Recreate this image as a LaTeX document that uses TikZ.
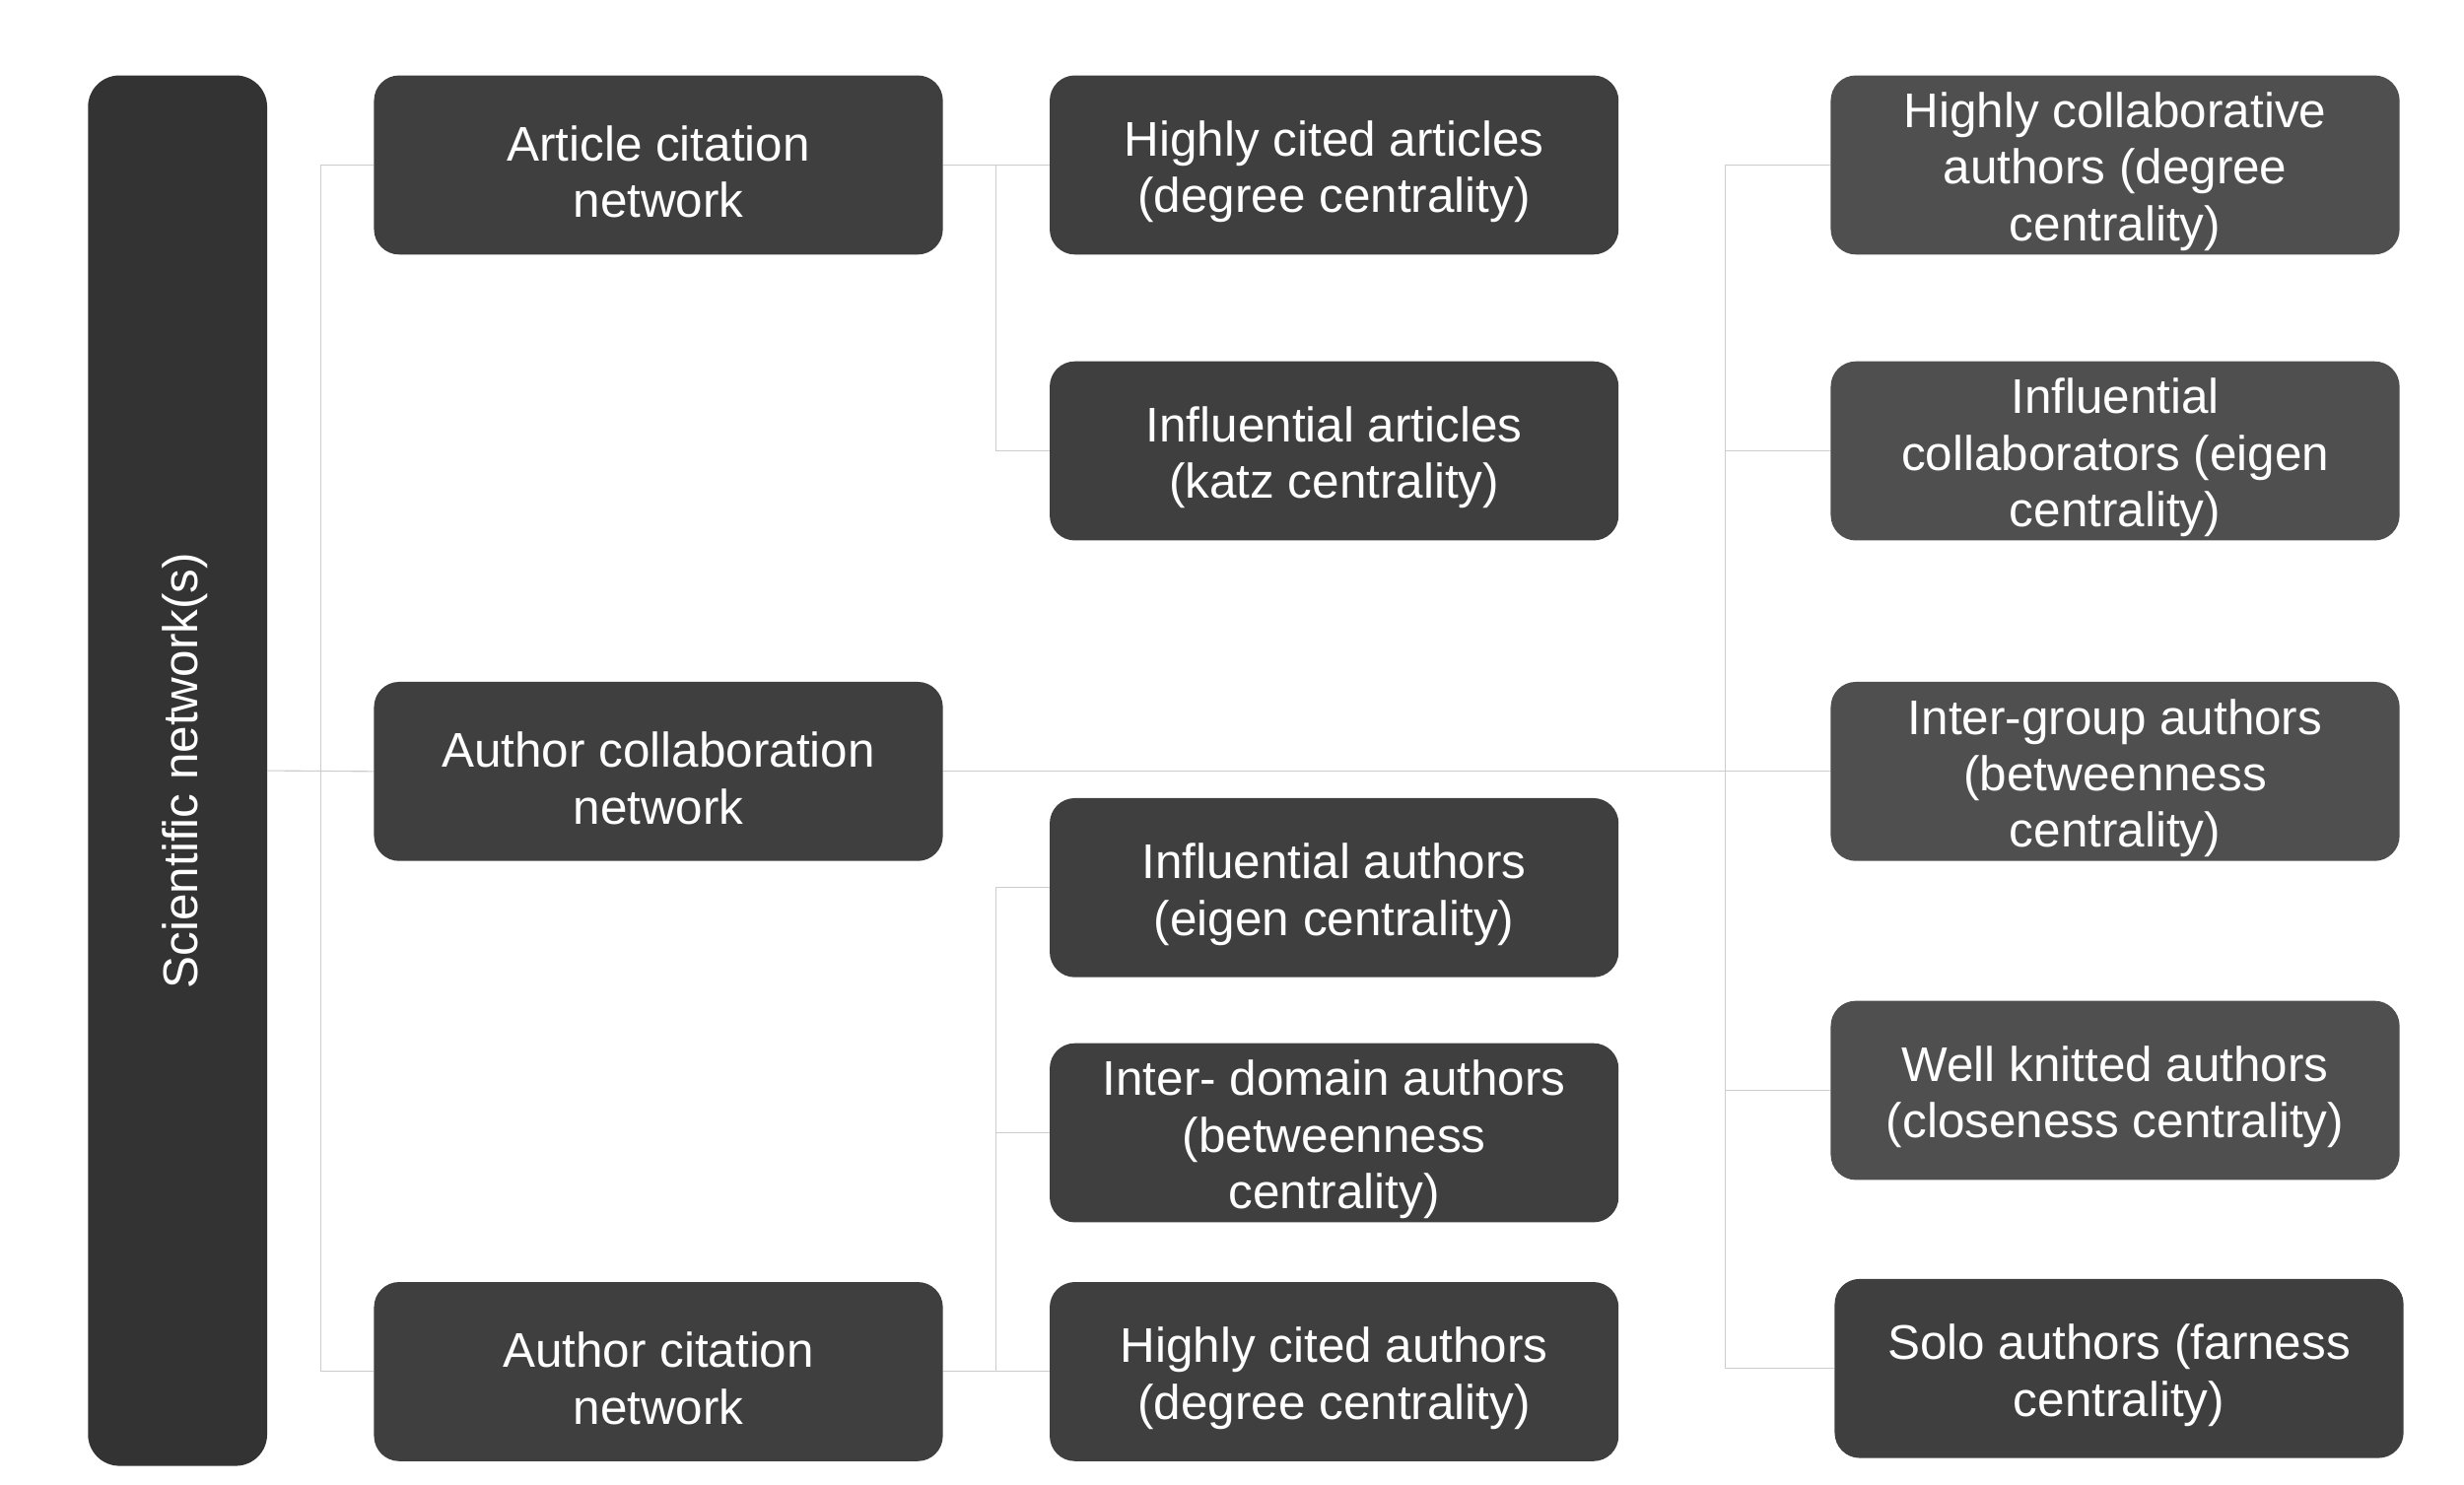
\documentclass[tikz,border=0pt]{standalone}
\usepackage{fontspec}
\setmainfont{Liberation Sans}
\usetikzlibrary{positioning, backgrounds}
\definecolor{barfill}{HTML}{333333}
\definecolor{boxfill}{HTML}{3F3F3F}
\definecolor{lightfill}{HTML}{4F4F4F}
\definecolor{linkgray}{HTML}{CCCCCC}
\newcommand{\boxstrut}{\rule{0pt}{31pt}}

\begin{document}
\begin{tikzpicture}[x=1pt, y=-1pt,
    net/.style={rectangle, fill=boxfill, rounded corners=16pt, minimum width=362pt, minimum height=114pt, inner sep=0pt, text=white, align=center, font=\fontsize{31}{36}\selectfont},
    collab/.style={net, fill=lightfill},
    rootbar/.style={rectangle, fill=barfill, rounded corners=20pt, minimum width=114pt, minimum height=885pt, inner sep=0pt, text=white, font=\fontsize{31}{36}\selectfont},
    link/.style={draw=linkgray, line width=0.7pt}
]
\useasboundingbox (0,0) rectangle (1568,945);

\node[rootbar] (sci) at (113,490.5) {\rotatebox{90}{\rule{0pt}{32pt}Scientific network(s)}};

\node[net] (artnet) at (419,105) {\boxstrut Article citation\\network};
\node[net] (colnet) at (419,491) {\boxstrut Author collaboration\\network};
\node[net] (citnet) at (419,873) {\boxstrut Author citation\\network};

\node[net] (hcart) at (849,105) {\boxstrut Highly cited articles\\(degree centrality)};
\node[net] (infart) at (849,287) {\boxstrut Influential articles\\(katz centrality)};
\node[net] (infaut) at (849,565) {\boxstrut Influential authors\\(eigen centrality)};
\node[net] (interdom) at (849,721) {\boxstrut Inter- domain authors\\(betweenness\\centrality)};
\node[net] (hcaut) at (849,873) {\boxstrut Highly cited authors\\(degree centrality)};

\node[collab] (hcollab) at (1346,105) {\boxstrut Highly collaborative\\authors (degree\\centrality)};
\node[collab] (infcol) at (1346,287) {\boxstrut Influential\\collaborators (eigen\\centrality)};
\node[collab] (intergrp) at (1346,491) {\boxstrut Inter-group authors\\(betweenness\\centrality)};
\node[collab] (wellknit) at (1346,694) {\boxstrut Well knitted authors\\(closeness centrality)};
\node[net] (solo) at (1348.5,871) {\boxstrut Solo authors (farness\\centrality)};

\begin{scope}[on background layer]
% root to networks
\coordinate (rootfork) at (204,491);
\draw[link] (sci.east) -- (colnet.west);
\draw[link] (rootfork) |- (artnet.west);
\draw[link] (rootfork) |- (citnet.west);
% article citation
\coordinate (artfork) at (634,105);
\draw[link] (artnet.east) -- (hcart.west);
\draw[link] (artfork) |- (infart.west);
% author citation
\coordinate (citfork) at (634,873);
\draw[link] (citnet.east) -- (hcaut.west);
\draw[link] (citfork) |- (infaut.west);
\draw[link] (citfork) |- (interdom.west);
% author collaboration
\coordinate (colfork) at (1098,491);
\draw[link] (colnet.east) -- (intergrp.west);
\draw[link] (colfork) |- (hcollab.west);
\draw[link] (colfork) |- (infcol.west);
\draw[link] (colfork) |- (wellknit.west);
\draw[link] (colfork) |- (solo.west);
\end{scope}
\end{tikzpicture}
\end{document}
